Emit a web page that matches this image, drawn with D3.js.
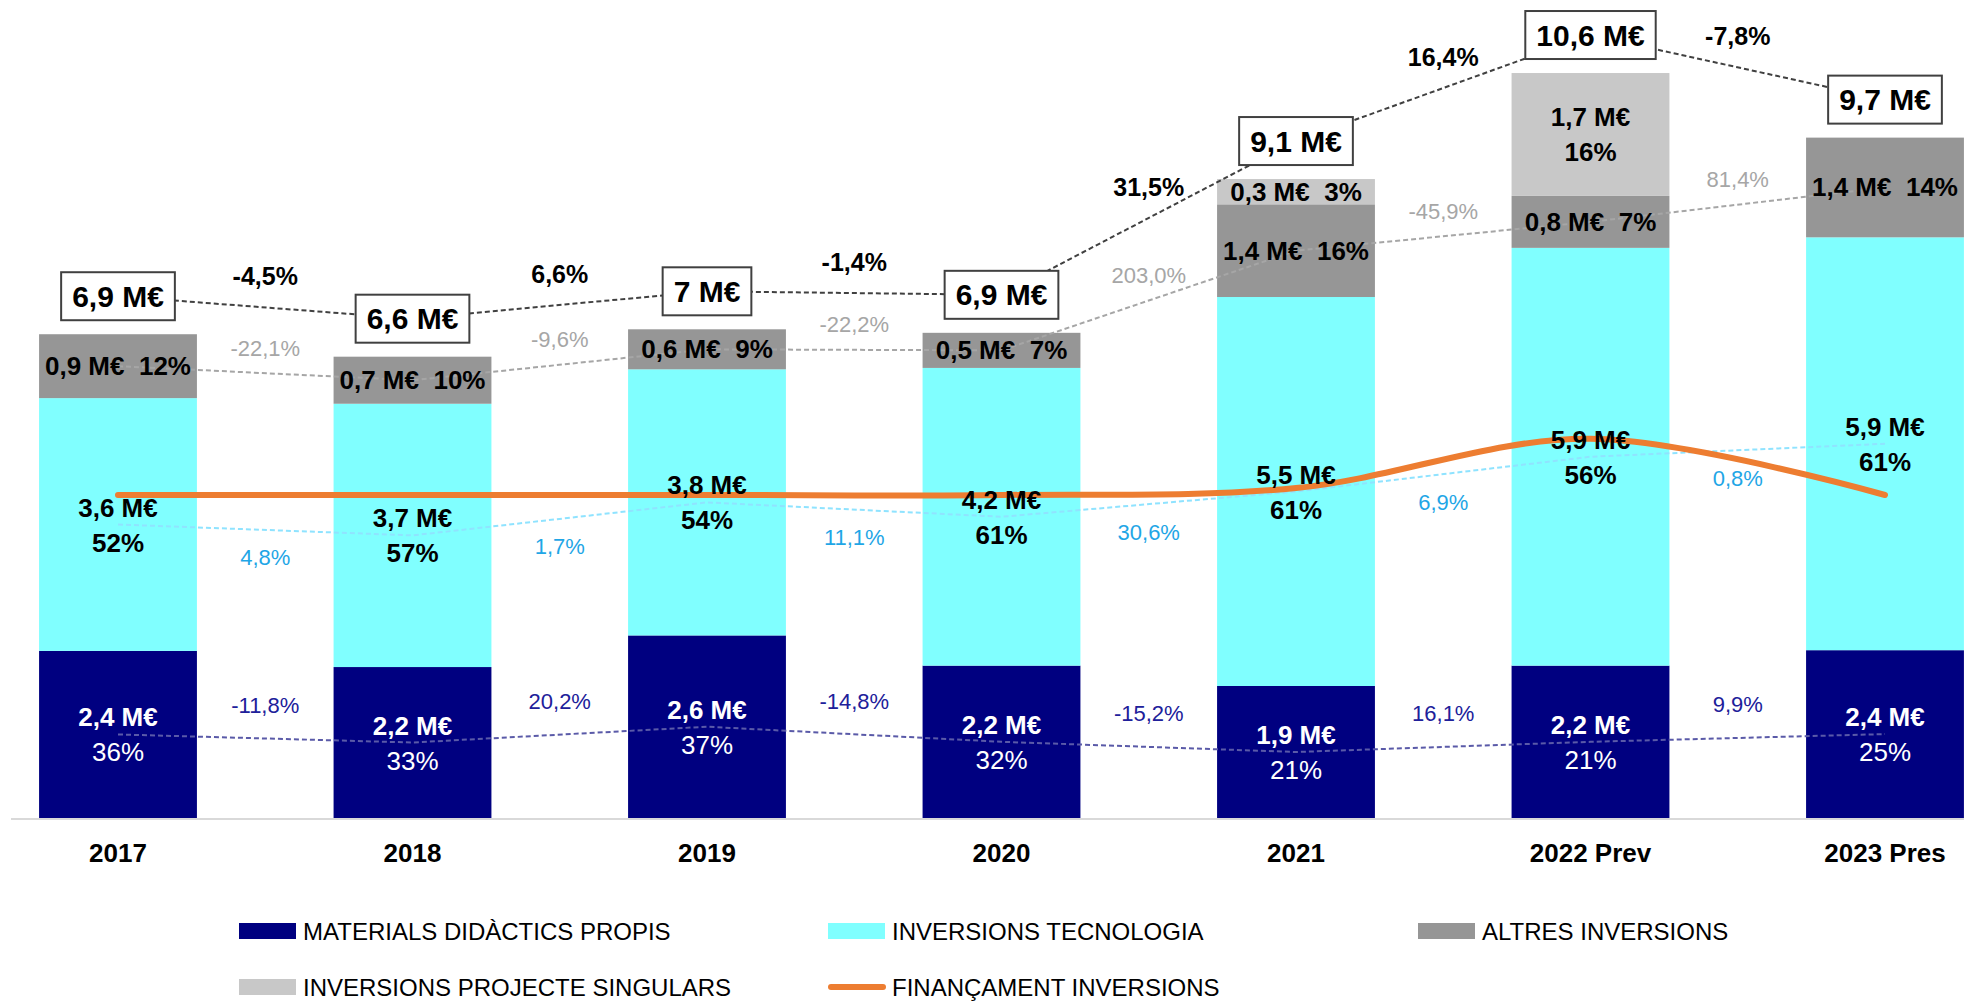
<!DOCTYPE html>
<html>
<head>
<meta charset="utf-8">
<script src="https://cdn.jsdelivr.net/npm/d3@7"></script>
<style>
    body { margin: 0; background: #fff; }
    svg { display: block; font-family: "Liberation Sans", Arial, sans-serif; }
</style>
</head>
<body>
<div id="chart"></div>
<script>
// categories
const years = ["2017", "2018", "2019", "2020", "2021", "2022 Prev", "2023 Pres"];

// series values (M€)
const materials = [2.38, 2.15, 2.60, 2.17, 1.88, 2.17, 2.39];
const tecnologia = [3.60, 3.75, 3.79, 4.24, 5.54, 5.95, 5.88];
const altres = [0.91, 0.67, 0.57, 0.50, 1.32, 0.74, 1.42];
const singulars = [0, 0, 0, 0, 0.36, 1.75, 0];
const financament = [4.6, 4.6, 4.6, 4.6, 4.7, 5.4, 4.6];

// data labels
const materialsText = ["2,4 M€", "2,2 M€", "2,6 M€", "2,2 M€", "1,9 M€", "2,2 M€", "2,4 M€"];
const materialsPct = ["36%", "33%", "37%", "32%", "21%", "21%", "25%"];
const tecnologiaText = ["3,6 M€", "3,7 M€", "3,8 M€", "4,2 M€", "5,5 M€", "5,9 M€", "5,9 M€"];
const tecnologiaPct = ["52%", "57%", "54%", "61%", "61%", "56%", "61%"];
const altresText = ["0,9 M€", "0,7 M€", "0,6 M€", "0,5 M€", "1,4 M€", "0,8 M€", "1,4 M€"];
const altresPct = ["12%", "10%", "9%", "7%", "16%", "7%", "14%"];
const singularsText = ["", "", "", "", "0,3 M€", "1,7 M€", ""];
const singularsPct = ["", "", "", "", "3%", "16%", ""];
const totalText = ["6,9 M€", "6,6 M€", "7 M€", "6,9 M€", "9,1 M€", "10,6 M€", "9,7 M€"];

// year on year variation
const totalGrowth = ["-4,5%", "6,6%", "-1,4%", "31,5%", "16,4%", "-7,8%"];
const altresGrowth = ["-22,1%", "-9,6%", "-22,2%", "203,0%", "-45,9%", "81,4%"];
const tecnologiaGrowth = ["4,8%", "1,7%", "11,1%", "30,6%", "6,9%", "0,8%"];
const materialsGrowth = ["-11,8%", "20,2%", "-14,8%", "-15,2%", "16,1%", "9,9%"];

const width = 1964;
const height = 1006;
const baseY = 818;

const keys = ["materials", "tecnologia", "altres", "singulars"];
const colors = {
    materials: "#000080",
    tecnologia: "#80ffff",
    altres: "#969696",
    singulars: "#c8c8c8"
};
const legendNames = {
    materials: "MATERIALS DIDÀCTICS PROPIS",
    tecnologia: "INVERSIONS TECNOLOGIA",
    altres: "ALTRES INVERSIONS",
    singulars: "INVERSIONS PROJECTE SINGULARS",
    financament: "FINANÇAMENT INVERSIONS"
};

const table = years.map((year, i) => ({
    year,
    materials: materials[i],
    tecnologia: tecnologia[i],
    altres: altres[i],
    singulars: singulars[i]
}));

const svg = d3.select("#chart")
    .append("svg")
    .attr("width", width)
    .attr("height", height);

const x = d3.scaleBand()
    .domain(years)
    .range([-29.25, 2032.25])
    .paddingInner(0.464)
    .paddingOuter(0.232);

const y = d3.scaleLinear()
    .domain([0, 11.65])
    .range([baseY, 0]);

const cx = d => x(d) + x.bandwidth() / 2;

const series = d3.stack().keys(keys)(table);

// baseline
svg.append("line")
    .attr("x1", 11)
    .attr("x2", width)
    .attr("y1", baseY + 1)
    .attr("y2", baseY + 1)
    .attr("stroke", "#d9d9d9")
    .attr("stroke-width", 2);

// stacked bars
svg.append("g")
    .selectAll("g")
    .data(series)
    .join("g")
    .attr("fill", s => colors[s.key])
    .selectAll("rect")
    .data(s => s)
    .join("rect")
    .attr("x", d => x(d.data.year))
    .attr("width", x.bandwidth())
    .attr("y", d => y(d[1]))
    .attr("height", d => y(d[0]) - y(d[1]));

// segment centres, used for the dashed lines and the labels
const mid = key => series.find(s => s.key === key).map(d => y((d[0] + d[1]) / 2));

const totals = table.map(d => keys.reduce((acc, k) => acc + d[k], 0));
const boxY = totals.map(t => y(t) - 38);

const dashed = [
    { ys: mid("altres"), stroke: "#a6a6a6", growth: altresGrowth, off: -25, fill: "#a6a6a6", weight: "normal", size: 22 },
    { ys: mid("tecnologia"), stroke: "#8fe3ff", growth: tecnologiaGrowth, off: 28, fill: "#1fa6e6", weight: "normal", size: 22 },
    { ys: mid("materials"), stroke: "#5a5aa8", growth: materialsGrowth, off: -33, fill: "#20209a", weight: "normal", size: 22 },
    { ys: boxY, stroke: "#404040", growth: totalGrowth, off: -31, fill: "#000", weight: "bold", size: 25 }
];

const line = d3.line()
    .x((d, i) => cx(years[i]))
    .y(d => d);

dashed.forEach(s => {
    svg.append("path")
        .attr("d", line(s.ys))
        .attr("fill", "none")
        .attr("stroke", s.stroke)
        .attr("stroke-width", 2)
        .attr("stroke-dasharray", "5,3");

    svg.append("g")
        .selectAll("text")
        .data(s.growth)
        .join("text")
        .attr("x", (d, i) => (cx(years[i]) + cx(years[i + 1])) / 2)
        .attr("y", (d, i) => (s.ys[i] + s.ys[i + 1]) / 2 + s.off)
        .attr("text-anchor", "middle")
        .attr("dominant-baseline", "central")
        .attr("font-size", s.size)
        .attr("font-weight", s.weight)
        .attr("fill", s.fill)
        .text(d => d);
});

// financing line
svg.append("path")
    .attr("d", d3.line()
        .x((d, i) => cx(years[i]))
        .y(d => y(d))
        .curve(d3.curveCatmullRom.alpha(0.5))(financament))
    .attr("fill", "none")
    .attr("stroke", "#ed7d31")
    .attr("stroke-width", 6)
    .attr("stroke-linecap", "round");

// labels inside the bars
function twoLines(key, texts, pcts, color, pctWeight) {
    const ys = mid(key);
    const g = svg.append("g")
        .attr("text-anchor", "middle")
        .attr("font-size", 26)
        .attr("fill", color);
    years.forEach((yr, i) => {
        if (!texts[i]) return;
        g.append("text")
            .attr("x", cx(yr))
            .attr("y", ys[i] - 17)
            .attr("dominant-baseline", "central")
            .attr("font-weight", "bold")
            .text(texts[i]);
        g.append("text")
            .attr("x", cx(yr))
            .attr("y", ys[i] + 18)
            .attr("dominant-baseline", "central")
            .attr("font-weight", pctWeight)
            .text(pcts[i]);
    });
}

function oneLine(key, texts, pcts, idx) {
    const ys = mid(key);
    svg.append("g")
        .selectAll("text")
        .data(idx)
        .join("text")
        .attr("x", i => cx(years[i]))
        .attr("y", i => ys[i])
        .attr("text-anchor", "middle")
        .attr("dominant-baseline", "central")
        .attr("font-size", 26)
        .attr("font-weight", "bold")
        .style("white-space", "pre")
        .text(i => `${texts[i]}  ${pcts[i]}`);
}

twoLines("materials", materialsText, materialsPct, "#fff", "normal");
twoLines("tecnologia", tecnologiaText, tecnologiaPct, "#000", "bold");
oneLine("altres", altresText, altresPct, d3.range(years.length));

// singular projects: short segment on one line, tall one on two
const singH = series.find(s => s.key === "singulars").map(d => y(d[0]) - y(d[1]));
oneLine("singulars", singularsText, singularsPct, d3.range(years.length).filter(i => singularsText[i] && singH[i] < 60));
twoLines("singulars", singularsText.map((t, i) => singH[i] >= 60 ? t : ""), singularsPct, "#000", "bold");

// total boxes
const boxes = svg.append("g")
    .selectAll("g")
    .data(totalText)
    .join("g")
    .attr("transform", (d, i) => `translate(${cx(years[i])},${boxY[i]})`);

boxes.append("rect")
    .attr("fill", "#fff")
    .attr("stroke", "#404040")
    .attr("stroke-width", 2);

boxes.append("text")
    .attr("text-anchor", "middle")
    .attr("dominant-baseline", "central")
    .attr("font-size", 30)
    .attr("font-weight", "bold")
    .attr("fill", "#000")
    .text(d => d);

boxes.each(function() {
    const w = d3.select(this).select("text").node().getComputedTextLength() + 22;
    d3.select(this).select("rect")
        .attr("x", -w / 2)
        .attr("y", -24)
        .attr("width", w)
        .attr("height", 48);
});

// x axis
svg.append("g")
    .attr("transform", `translate(0,${baseY})`)
    .call(d3.axisBottom(x).tickSize(0).tickPadding(26))
    .call(g => g.select(".domain").remove())
    .call(g => g.selectAll("text")
        .attr("font-size", 26)
        .attr("font-weight", "bold")
        .attr("font-family", "'Liberation Sans', Arial, sans-serif")
        .attr("fill", "#000"));

// legend
const legendItems = [
    { key: "materials", col: 239, row: 931 },
    { key: "tecnologia", col: 828, row: 931 },
    { key: "altres", col: 1418, row: 931 },
    { key: "singulars", col: 239, row: 987 },
    { key: "financament", col: 828, row: 987 }
];

const legend = svg.append("g")
    .selectAll("g")
    .data(legendItems)
    .join("g")
    .attr("transform", d => `translate(${d.col},${d.row})`);

legend.filter(d => d.key !== "financament")
    .append("rect")
    .attr("x", 0)
    .attr("y", -8)
    .attr("width", 57)
    .attr("height", 16)
    .attr("fill", d => colors[d.key]);

legend.filter(d => d.key === "financament")
    .append("line")
    .attr("x1", 3)
    .attr("x2", 55)
    .attr("stroke", "#ed7d31")
    .attr("stroke-width", 6)
    .attr("stroke-linecap", "round");

legend.append("text")
    .attr("x", 64)
    .attr("dominant-baseline", "central")
    .attr("font-size", 24)
    .attr("fill", "#000")
    .text(d => legendNames[d.key]);
</script>
</body>
</html>
